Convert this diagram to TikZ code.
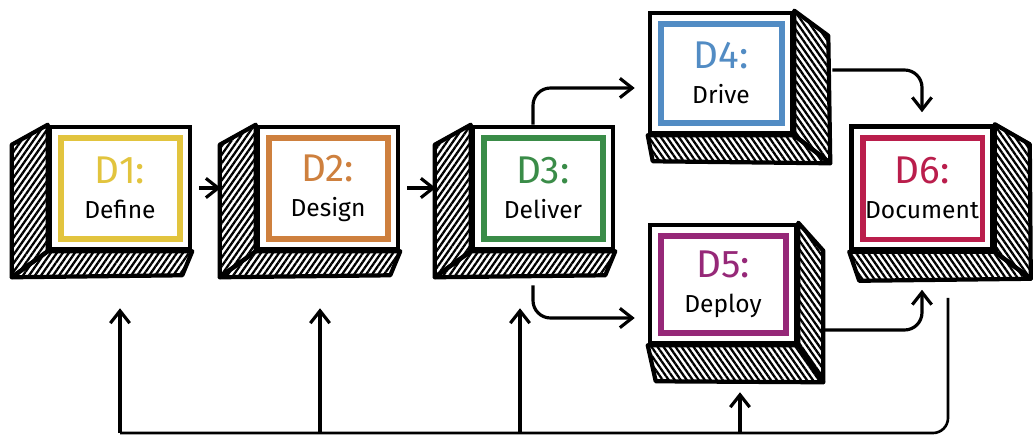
\documentclass[tikz,border=0pt]{standalone}
\usepackage{fontspec}
\setmainfont{Fira Sans}
\usetikzlibrary{arrows.meta, patterns.meta}
\definecolor{dyellow}{RGB}{226,196,62}
\definecolor{dorange}{RGB}{206,128,62}
\definecolor{dgreen}{RGB}{58,140,72}
\definecolor{dblue}{RGB}{82,140,196}
\definecolor{dpurple}{RGB}{150,40,120}
\definecolor{dcrimson}{RGB}{186,30,76}
\newcommand{\dstep}[3]{{\fontsize{22}{22}\selectfont\color{#1}#2}\\[4pt]#3}

\begin{document}
\begin{tikzpicture}[x=0.02cm, y=0.02cm,
  face/.style={rectangle, draw=black, line width=2.6pt, fill=white,
               minimum width=2.8cm, minimum height=2.44cm, inner sep=0pt,
               align=center, font=\fontsize{14}{16}\selectfont,
               path picture={\draw[line width=3.4pt, #1]
                 ([shift={(11,-11)}]path picture bounding box.north west) rectangle
                 ([shift={(-10,10)}]path picture bounding box.south east);}},
  panel/.style={draw=black, line width=2.4pt, line join=round},
  hatchl/.style={panel, pattern={Lines[angle=55,distance=2.8pt,line width=1.3pt]}},
  hatchr/.style={panel, pattern={Lines[angle=125,distance=2.8pt,line width=1.3pt]}},
  flow/.style={-{Straight Barb[length=7pt,width=11pt]}, line width=1.8pt, rounded corners=0.35cm},
  back/.style={line width=1.5pt, rounded corners=0.3cm}
]
\useasboundingbox (0,0) rectangle (1034,437);

\node[face=dyellow] (d1) at (120,249) {\dstep{dyellow}{D1:}{Define}};
\node[face=dorange] (d2) at (328,249) {\dstep{dorange}{D2:}{Design}};
\node[face=dgreen]  (d3) at (543,249) {\dstep{dgreen}{D3:}{Deliver}};
\node[face=dblue, minimum width=2.84cm, minimum height=2.4cm] (d4) at (721,364) {\dstep{dblue}{D4:}{Drive}};
\node[face=dpurple, minimum width=2.92cm, minimum height=2.36cm] (d5) at (723,153) {\dstep{dpurple}{D5:}{Deploy}};
\node[face=dcrimson, minimum width=2.82cm, minimum height=2.46cm] (d6) at (922,249) {\dstep{dcrimson}{D6:}{Document}};

% shaded sides
\foreach \n in {d1,d2,d3}{
  \draw[hatchl] (\n.north west) -- ++(-36,-20) -- ([shift={(-36,-26)}]\n.south west) -- (\n.south west) -- cycle;
  \draw[hatchl] (\n.south west) -- (\n.south east) -- ++(-10,-24) -- ([shift={(-36,-26)}]\n.south west) -- cycle;
}
\foreach \n/\tx/\ty/\rx/\ry/\lx/\ly in {d4/34/-25/36/-28/5/-26, d5/25/-28/25/-37/8/-36, d6/35/-20/36/-27/10/-29}{
  \draw[hatchr] (\n.north east) -- ++(\tx,\ty) -- ([shift={(\rx,\ry)}]\n.south east) -- (\n.south east) -- cycle;
  \draw[hatchr] (\n.south west) -- (\n.south east) -- ([shift={(\rx,\ry)}]\n.south east) -- ([shift={(\lx,\ly)}]\n.south west) -- cycle;
}

% forward flow
\draw[flow, shorten <=4pt, shorten >=0.7cm] (d1.east) -- (d2.west);
\draw[flow, shorten <=4pt, shorten >=0.7cm] (d2.east) -- (d3.west);
\draw[flow] ([shift={(-10,0)}]d3.north) |- ([shift={(-13,-15)}]d4.west);
\draw[flow] ([shift={(-10,-34)}]d3.south) |- ([shift={(-13,-34)}]d5.west);
\draw[flow] ([shift={(38,3)}]d4.east) -| ([shift={(0,12)}]d6.north);
\draw[flow] ([shift={(26,-46)}]d5.east) -| ([shift={(0,-38)}]d6.south);

% feedback loop
\coordinate (loop) at (120,4);
\draw[back] ([shift={(26,-46)}]d6.south) |- (loop);
\foreach \n/\dx/\dy in {d1/0/-57, d2/-8/-57, d3/-23/-57, d5/17/-47}{
  \coordinate (t\n) at ([shift={(\dx,\dy)}]\n.south);
  \draw[flow] (t\n |- loop) -- (t\n);
}
\end{tikzpicture}
\end{document}
